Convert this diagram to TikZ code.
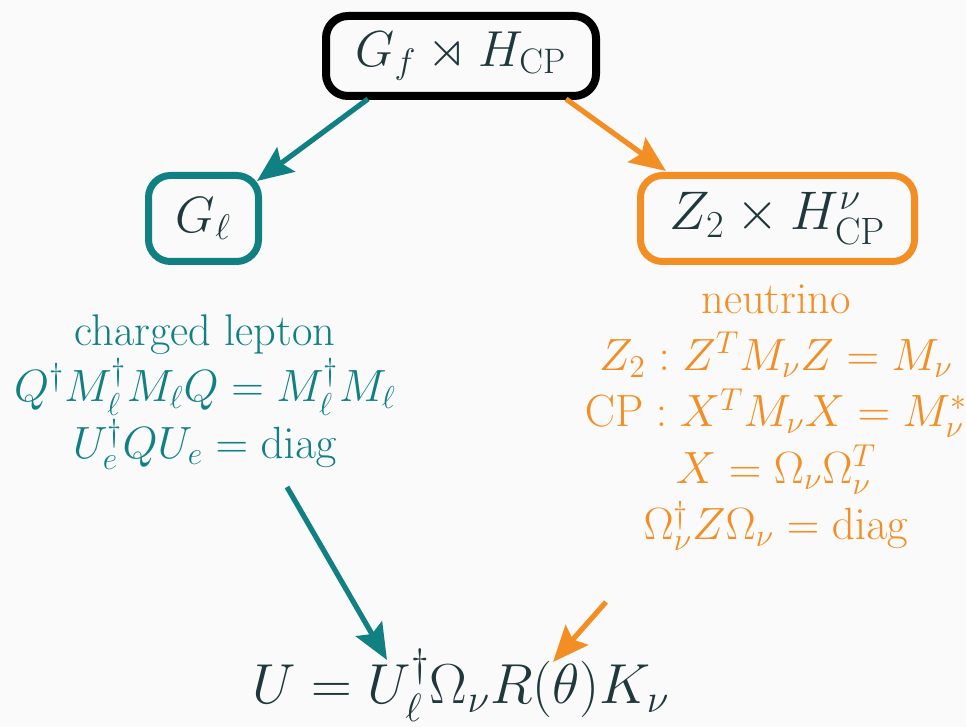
\RequirePackage{fix-cm}
\documentclass[tikz,border=0pt]{standalone}
\usepackage{amsmath,amssymb}
\usetikzlibrary{arrows.meta}
\definecolor{bg}{RGB}{250,250,250}
\definecolor{tealc}{RGB}{17,128,131}
\definecolor{orangec}{RGB}{242,142,35}
\definecolor{ink}{RGB}{30,56,60}
\newcommand{\mfs}[1]{{\fontsize{22.6}{28}\selectfont #1}}
\tikzset{
  box/.style={draw, rounded corners=11pt, text=ink, inner sep=0pt},
  info/.style={align=center, font=\fontsize{22.2}{28.2}\selectfont, inner sep=0pt},
  arr/.style={line width=2.6pt, -{Stealth[length=18pt,width=15pt,inset=3pt]}},
}
\begin{document}
\begin{tikzpicture}[x=0.5pt,y=-0.5pt]
\fill[bg] (0,0) rectangle (966,727);
\useasboundingbox (0,0) rectangle (966,727);
\node[box, line width=4pt, draw=black, minimum width=135pt, minimum height=40pt, font=\fontsize{25.3}{34}\selectfont] (top) at (461,56) {$G_f\rtimes H_{\mathrm{CP}}$};
\node[box, line width=3.5pt, draw=tealc, minimum width=55pt, minimum height=43pt, font=\fontsize{25.5}{34}\selectfont] (gl) at (203.5,218.5) {$G_\ell$};
\node[box, line width=3.5pt, draw=orangec, minimum width=137pt, minimum height=43pt, font=\fontsize{27.2}{34}\selectfont] (zh) at (777.5,218.5) {$Z_2\times H^{\nu}_{\mathrm{CP}}$};
\node[info, text=tealc] (cl) at (205,392) {charged lepton\\ \mfs{$Q^\dagger M_\ell^\dagger M_\ell Q=M_\ell^\dagger M_\ell$}\\ \mfs{$U_e^\dagger Q U_e=\mathrm{diag}$}};
\node[info, text=orangec] (nu) at (776,418) {neutrino\\ \mfs{$Z_2: Z^T M_\nu Z=M_\nu$}\\ \mfs{$\mathrm{CP}: X^T M_\nu X=M_\nu^*$}\\ \mfs{$X=\Omega_\nu\Omega_\nu^T$}\\ \mfs{$\Omega_\nu^\dagger Z\Omega_\nu=\mathrm{diag}$}};
\node[text=ink, inner sep=0pt, font=\fontsize{28.2}{34}\selectfont, anchor=base] (U) at (461,704) {$U=U_\ell^\dagger\Omega_\nu R(\theta)K_\nu$};
\coordinate (t1) at (368,99);
\coordinate (g1) at (257,181);
\coordinate (t2) at (566,99);
\coordinate (z1) at (666,171);
\coordinate (c1) at (287,487);
\coordinate (u1) at (387,660);
\coordinate (n1) at (606,602);
\coordinate (u2) at (553,662);
\draw[arr, tealc] (t1) -- (g1);
\draw[arr, orangec] (t2) -- (z1);
\draw[arr, tealc] (c1) -- (u1);
\draw[arr, orangec] (n1) -- (u2);
\end{tikzpicture}
\end{document}
